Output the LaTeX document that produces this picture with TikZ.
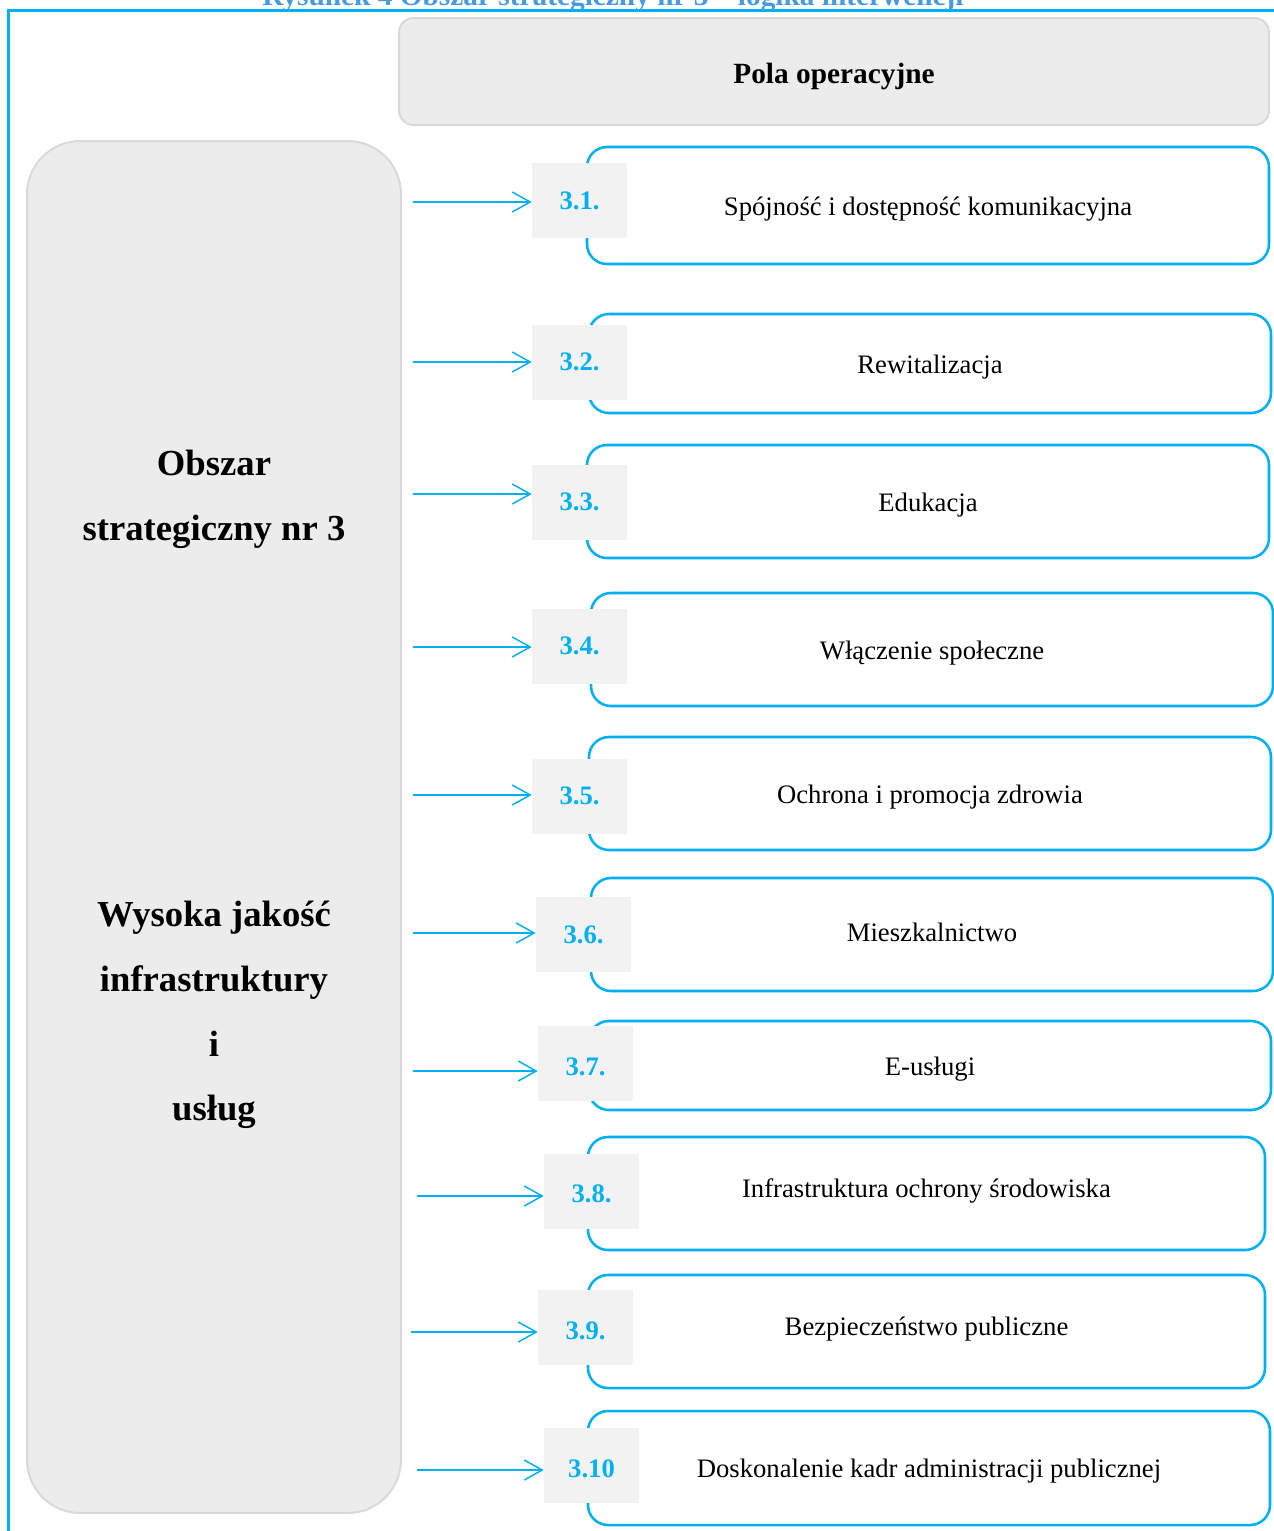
\documentclass[tikz,border=0pt]{standalone}
\usepackage{fontspec}
\setmainfont{Liberation Serif}
\usetikzlibrary{arrows.meta,fit}
\definecolor{cy}{HTML}{00B0F0}
\definecolor{ttl}{HTML}{4A9ADF}
\definecolor{sqfill}{HTML}{F2F2F2}
\definecolor{bigfill}{HTML}{ECECEC}
\definecolor{bigline}{HTML}{D9D9D9}
\tikzset{
  framestyle/.style={draw=cy, line width=2.25pt},
  headbox/.style={draw=bigline, fill=bigfill, line width=1.5pt, rounded corners=11pt, inner sep=0pt},
  bigbox/.style={draw=bigline, fill=bigfill, line width=1.5pt, rounded corners=40pt, inner sep=0pt},
  itembox/.style={draw=cy, fill=white, line width=1.9pt, rounded corners=15pt, inner sep=0pt},
  sqbox/.style={fill=sqfill, draw=none, inner sep=0pt},
  numtxt/.style={text=cy, font=\fontsize{20}{24}\selectfont\bfseries, inner sep=0pt},
  itemtxt/.style={font=\fontsize{20}{24}\selectfont, inner sep=0pt},
  bigtxt/.style={font=\fontsize{27.5}{48.5}\selectfont\bfseries, align=center, inner sep=0pt},
  arr/.style={draw=cy, line width=1.1pt, -{Straight Barb[length=13.5pt, width=15pt, line width=1.1pt]}}
}
\begin{document}
\begin{tikzpicture}[x=0.75pt,y=-0.75pt]
\useasboundingbox (0,0) rectangle (1274,1531);
\clip (0,0) rectangle (1274,1531);
% title (cut off at the top, as in the source)
\node[text=ttl, font=\fontsize{22}{26}\selectfont\bfseries, anchor=base, inner sep=0pt] (title) at (613,6) {Rysunek 4 Obszar strategiczny nr 3 – logika interwencji};
% frame
\draw[framestyle] (8.5,1540) -- (8.5,10.5) -- (1280,10.5);
% header
\node[headbox, fit={(399,18) (1269,125)}] (head) {};
\node[font=\fontsize{22}{26}\selectfont\bfseries, inner sep=0pt] (headtxt) at (834,76) {Pola operacyjne};
% left box
\node[bigbox, fit={(27,141) (401,1513)}] (big) {};
\node[bigtxt] (bigA) at (214,499) {Obszar\\strategiczny nr 3};
\node[bigtxt] (bigB) at (214,1015) {Wysoka jakość\\infrastruktury\\i\\usług};
% items
\foreach \i/\bx/\by/\bX/\bY/\ty/\sx/\sy/\ny/\ax/\ay/\num/\txt in {
  1/587/147/1269/264/209/532/163/201/413/202/3.1./{Spójność i dostępność komunikacyjna},
  2/589/314/1271/413/367/532/325/362/413/362/3.2./{Rewitalizacja},
  3/587/445/1269/558/505/532/465/502/413/494/3.3./{Edukacja},
  4/591/593/1273/706/653/532/609/646/413/647/3.4./{Włączenie społeczne},
  5/589/737/1271/850/797/532/759/796/413/795/3.5./{Ochrona i promocja zdrowia},
  6/591/878/1273/991/932/536/897/935/413/933/3.6./{Mieszkalnictwo},
  7/589/1021/1271/1110/1069/538/1026/1067/413/1071/3.7./{E-usługi},
  8/588/1137/1265/1250/1191/544/1154/1194/417/1196/3.8./{Infrastruktura ochrony środowiska},
  9/588/1275/1265/1388/1329/538/1290/1331/411/1332/3.9./{Bezpieczeństwo publiczne},
  10/588/1411/1270/1525/1471/544/1428/1469/417/1470/3.10/{Doskonalenie kadr administracji publicznej}}
{
  \node[itembox, fit={(\bx,\by) (\bX,\bY)}] (b\i) {};
  \node[itemtxt] (t\i) at (b\i.center |- 0,\ty) {\txt};
  \node[sqbox, fit={(\sx,\sy) ({\sx+95},{\sy+75})}] (s\i) {};
  \node[numtxt] (n\i) at (s\i.center |- 0,\ny) {\num};
  \coordinate (a\i) at (\ax,\ay);
  \draw[arr] (a\i) -- (a\i -| s\i.west);
}
\end{tikzpicture}
\end{document}
